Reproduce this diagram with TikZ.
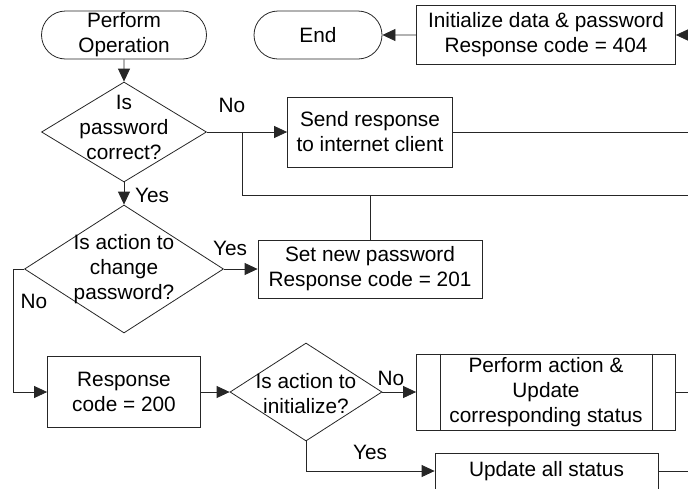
\documentclass[tikz,border=0pt]{standalone}
\usepackage{fontspec}
\setmainfont{Liberation Sans}
\usetikzlibrary{shapes.geometric,shapes.misc,arrows.meta}

\begin{document}
\begin{tikzpicture}[x=1pt,y=-1pt,
    every node/.style={font=\fontsize{20.8}{25}\selectfont, align=center, inner sep=0pt},
    line/.style={draw=black!85, line width=0.8pt},
    arr/.style={line, -{Triangle[length=13pt,width=12pt]}},
    term/.style={line, rounded rectangle, minimum height=48pt},
    box/.style={line, rectangle},
    decision/.style={line, diamond},
    lbl/.style={anchor=base}]
    \useasboundingbox (0,0) rectangle (688,488);
    \clip (0,0) rectangle (688,488);
    % terminals
    \node[term, minimum width=165pt] (start) at (124,35) {Perform\\Operation};
    \node[term, minimum width=128pt] (finish) at (318,35) {End};
    \node[box, minimum width=259pt, minimum height=59pt] (init) at (546,35) {Initialize data \& password\\Response code = 404};
    % first question
    \node[decision, minimum width=165pt, minimum height=100pt] (chkpw) at (124,132) {};
    \node (chkpwtxt) at (124,127) {Is\\password\\correct?};
    \node[box, minimum width=165pt, minimum height=70pt] (send) at (370,132) {Send response\\to internet client};
    % second question
    \node[decision, minimum width=199pt, minimum height=128pt] (chgpw) at (124,269) {};
    \node (chgpwtxt) at (124,269) {Is action to\\change\\password?};
    \node[box, minimum width=224pt, minimum height=58pt] (setpw) at (370,269) {Set new password\\Response code = 201};
    % third row
    \node[box, minimum width=153pt, minimum height=71pt] (resp) at (124,392) {Response\\code = 200};
    \node[decision, minimum width=152pt, minimum height=98pt] (chkinit) at (306,392) {};
    \node (chkinittxt) at (306,394) {Is action to\\initialize?};
    \node[box, minimum width=259pt, minimum height=76pt] (perform) at (546,392) {Perform action \&\\Update\\corresponding status};
    \draw[line] ([xshift=24pt]perform.north west) -- ([xshift=24pt]perform.south west);
    \draw[line] ([xshift=-24pt]perform.north east) -- ([xshift=-24pt]perform.south east);
    \node[box, minimum width=223pt, minimum height=36pt] (updall) at (546.5,471) {Update all status};
    % free ends at the right border
    \coordinate (out1) at (688,35);
    \coordinate (out2) at (688,132);
    \coordinate (out3) at (688,195);
    \coordinate (out4) at (688,392);
    \coordinate (out5) at (688,471);
    \coordinate (j1) at (242,132);
    \coordinate (j2) at (13,269);
    % connectors
    \draw[arr] (out1) -- (init);
    \draw[arr] (init) -- (finish);
    \draw[arr] (start) -- (chkpw);
    \draw[arr] (chkpw) -- (send);
    \draw[line] (send) -- (out2);
    \draw[line] (j1) |- (out3);
    \draw[line] (setpw.north) -- (setpw.north |- out3);
    \draw[arr] (chkpw) -- (chgpw);
    \draw[arr] (chgpw) -- (setpw);
    \draw[arr] (chgpw.west) -- (j2) |- (resp.west);
    \draw[arr] (resp) -- (chkinit);
    \draw[arr] (chkinit) -- (perform);
    \draw[line] (perform) -- (out4);
    \draw[arr] (chkinit.south) |- (updall.west);
    \draw[line] (updall) -- (out5);
    % labels
    \node[lbl] (no1) at (232,112) {No};
    \node[lbl] (yes1) at (152,202) {Yes};
    \node[lbl] (yes2) at (230,255) {Yes};
    \node[lbl] (no2) at (34,308) {No};
    \node[lbl] (no3) at (391,385) {No};
    \node[lbl] (yes3) at (370,459) {Yes};
\end{tikzpicture}
\end{document}
